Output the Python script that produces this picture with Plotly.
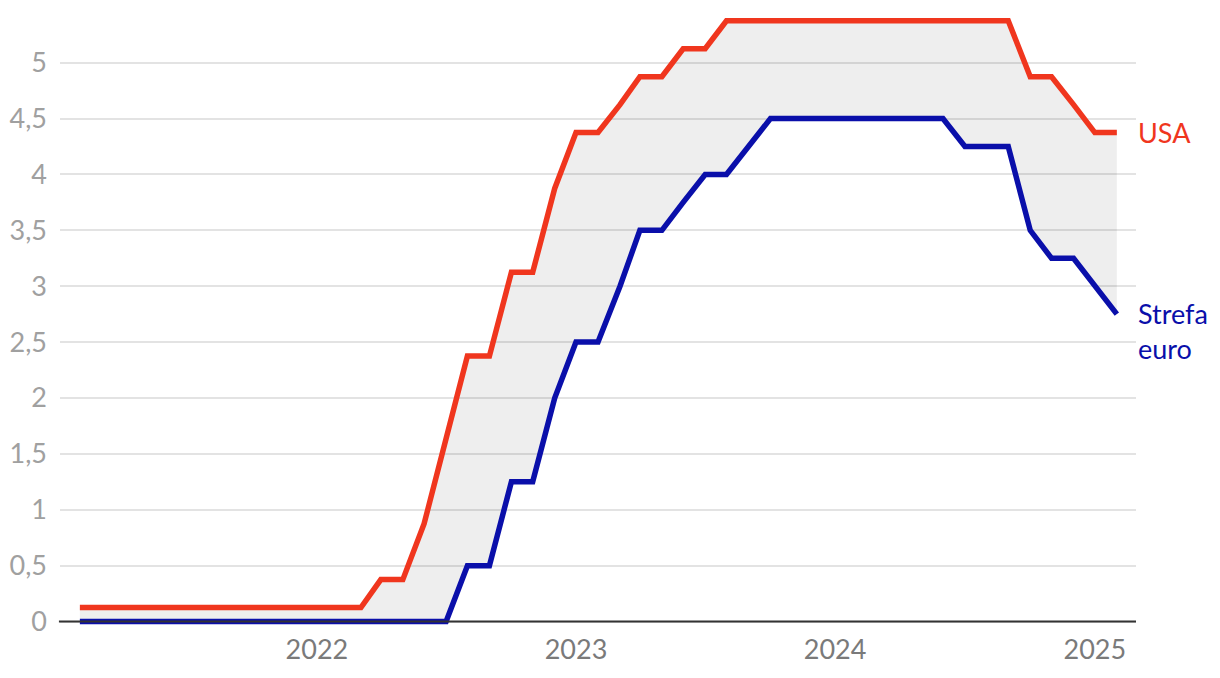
import plotly.graph_objects as go
import pandas as pd

dates = pd.date_range("2021-01-01", periods=49, freq="MS") + pd.Timedelta(days=14)
dates = [d.strftime("%Y-%m-%d") for d in dates]

usa = ([0.125] * 14 + [0.375, 0.375, 0.875, 1.625, 2.375, 2.375, 3.125, 3.125, 3.875,
        4.375, 4.375, 4.625, 4.875, 4.875, 5.125, 5.125] + [5.375] * 14 +
       [4.875, 4.875, 4.625, 4.375, 4.375])
euro = ([0.0] * 18 + [0.5, 0.5, 1.25, 1.25, 2.0, 2.5, 2.5, 3.0, 3.5, 3.5, 3.75, 4.0, 4.0, 4.25] +
        [4.5] * 9 + [4.25, 4.25, 4.25, 3.5, 3.25, 3.25, 3.0, 2.75])

y_ticks = [0, 0.5, 1, 1.5, 2, 2.5, 3, 3.5, 4, 4.5, 5]
y_labels = ["0", "0,5", "1", "1,5", "2", "2,5", "3", "3,5", "4", "4,5", "5"]
x_tickvals = ["2021-12-15", "2022-12-15", "2023-12-15", "2024-12-15"]
x_labels = ["2022", "2023", "2024", "2025"]

RED = "#f0361e"
BLUE = "#0a0faa"
FONT = "Lato"

fig = go.Figure()
fig.add_trace(go.Scatter(x=dates, y=usa, mode="lines", line=dict(width=0, color=RED),
                         showlegend=False, hoverinfo="skip"))
fig.add_trace(go.Scatter(x=dates, y=euro, mode="lines", line=dict(width=0, color=BLUE),
                         fill="tonexty", fillcolor="rgba(0,0,0,0.065)",
                         showlegend=False, hoverinfo="skip"))
fig.add_trace(go.Scatter(x=dates, y=usa, mode="lines", name="USA",
                         line=dict(width=5.5, color=RED), showlegend=False))
fig.add_trace(go.Scatter(x=dates, y=euro, mode="lines", name="Strefa euro",
                         line=dict(width=5.5, color=BLUE), showlegend=False))

fig.add_shape(type="line", xref="paper", yref="y", x0=-0.001, x1=1, y0=0, y1=0,
              line=dict(color="#333333", width=2), layer="above")

fig.add_annotation(x=dates[-1], y=usa[-1], text="USA", showarrow=False,
                   xanchor="left", yanchor="middle", xshift=19,
                   font=dict(family=FONT, size=27, color=RED))
fig.add_annotation(x=dates[-1], y=euro[-1], text="Strefa<br>euro", showarrow=False,
                   xanchor="left", yanchor="top", xshift=19, yshift=19, align="left",
                   font=dict(family=FONT, size=27, color=BLUE))

fig.update_layout(
    width=1220, height=678,
    margin=dict(l=52, r=92, t=10, b=60),
    paper_bgcolor="white", plot_bgcolor="white",
    font=dict(family=FONT),
    xaxis=dict(type="date", range=["2020-12-18", "2025-02-11"],
               tickvals=x_tickvals, ticktext=x_labels, showgrid=False,
               zeroline=False, showline=False, ticks="", automargin=False,
               tickfont=dict(family=FONT, size=27, color="#7a7a7a"),
               ticklabelstandoff=5),
    yaxis=dict(range=[-0.04, 5.4], tickvals=y_ticks, ticktext=y_labels,
               showgrid=True, gridcolor="#e3e3e3", gridwidth=2,
               zeroline=False, showline=False, ticks="", automargin=False,
               tickfont=dict(family=FONT, size=27, color="#a0a0a0"),
               ticklabelstandoff=12),
)

fig.write_html("out.html")
